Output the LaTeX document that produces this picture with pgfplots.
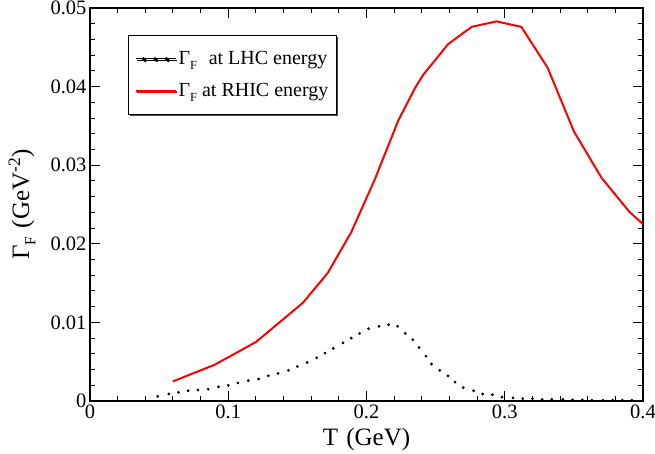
\documentclass[border=0pt]{standalone}
\usepackage{pgfplots}
\pgfplotsset{compat=1.18}
\usepackage{fontspec}
\setmainfont{Liberation Serif}
\usetikzlibrary{shadows}

% lowered subscript in text font
\newcommand\sub[1]{\raisebox{-0.55ex}{\scalebox{0.62}{#1}}}

% LHC curve: the individual dots of the dotted trace
\pgfplotstableread{
T       G
0.049   0.0006
0.057   0.0009
0.064   0.0011
0.071   0.0013
0.078   0.0014
0.0855  0.0015
0.093   0.0018
0.100   0.0020
0.107   0.0023
0.1145  0.0026
0.122   0.0028
0.129   0.0032
0.136   0.0035
0.1435  0.0039
0.150   0.0044
0.157   0.0049
0.164   0.0055
0.170   0.0061
0.176   0.0067
0.183   0.0074
0.189   0.0080
0.195   0.0086
0.2015  0.0092
0.209   0.0095
0.216   0.0097
0.2225  0.0095
0.228   0.0086
0.2335  0.0078
0.238   0.0068
0.243   0.0057
0.247   0.0047
0.253   0.0039
0.259   0.0032
0.264   0.0024
0.270   0.0017
0.2775  0.0013
0.284   0.0009
0.291   0.0008
0.298   0.0005
0.306   0.0004
0.313   0.0003
0.320   0.0003
0.327   0.0002
0.334   0.0002
0.342   0.0002
0.349   0.00015
0.356   0.00015
0.363   0.0001
0.371   0.0001
0.378   0.0001
0.385   0.0001
0.392   0.0001
}\lhc

% RHIC curve
\pgfplotstableread{
T      G
0.060  0.0025
0.090  0.0046
0.120  0.0075
0.154  0.0125
0.172  0.0163
0.189  0.0215
0.206  0.0282
0.223  0.0357
0.235  0.0398
0.241  0.0415
0.259  0.0454
0.276  0.0476
0.294  0.0483
0.312  0.0476
0.331  0.0424
0.350  0.0343
0.370  0.0284
0.390  0.0241
0.400  0.0225
}\rhic

\begin{document}
\begin{tikzpicture}[x=1pt,y=1pt]
\path[use as bounding box] (0,0) rectangle (655,453);
\begin{axis}[
  at={(90pt,52pt)}, anchor=south west,
  width=553pt, height=393pt, scale only axis,
  xmin=0, xmax=0.4, ymin=0, ymax=0.05,
  xtick={0,0.1,0.2,0.3,0.4},
  xticklabels={0,0.1,0.2,0.3,0.4},
  ytick={0,0.01,0.02,0.03,0.04,0.05},
  yticklabels={0,0.01,0.02,0.03,0.04,0.05},
  scaled x ticks=false, scaled y ticks=false,
  minor x tick num=4, minor y tick num=4,
  tick align=inside,
  major tick length=10pt, minor tick length=5pt,
  every tick/.style={black, line width=1pt},
  axis line style={line width=1.6pt},
  tick label style={font=\rmfamily\fontsize{20.5}{22}\selectfont},
  /pgf/number format/assume math mode=true,
  xlabel={T\,\,(GeV)},
  ylabel={Γ\sub{F}\,\,(GeV\textsuperscript{-2})},
  label style={font=\rmfamily\fontsize{25}{28}\selectfont},
  xlabel style={at={(axis description cs:0.5,0)}, anchor=base, yshift=-44pt},
  ylabel style={at={(axis description cs:-0.110,0.5)}, anchor=base},
  legend cell align=left,
  legend style={
    at={(axis description cs:0.069,0.931)}, anchor=north west,
    draw=black, line width=1pt, fill=white,
    drop shadow={shadow xshift=1.5pt, shadow yshift=-1.5pt, opacity=1, fill=black!70},
    inner xsep=6pt, inner ysep=14pt, row sep=13pt,
    font=\rmfamily\fontsize{20}{22}\selectfont,
  },
  legend image code/.code={\path (0pt,0pt) -- (40pt,0pt);
    \draw[#1] (6pt,0pt) -- (34pt,0pt);},
]
% legend sample for the dotted LHC trace
\addlegendimage{legend image code/.code={\path (0pt,0pt) -- (40pt,0pt);
    \fill[black] (8pt,0pt) circle (1.2pt);
    \fill[black] (19.5pt,0pt) circle (1.2pt);
    \fill[black] (31pt,0pt) circle (1.2pt);}}
\addlegendentry{Γ\sub{F}\,\, at LHC energy}
\addplot[black, only marks, mark=*, mark size=1.2pt, forget plot]
  table[x=T, y=G] {\lhc};
\addplot[red, line width=2pt] table[x=T, y=G] {\rhic};
\addlegendentry{Γ\sub{F} at RHIC energy}
\end{axis}
\end{tikzpicture}
\end{document}
